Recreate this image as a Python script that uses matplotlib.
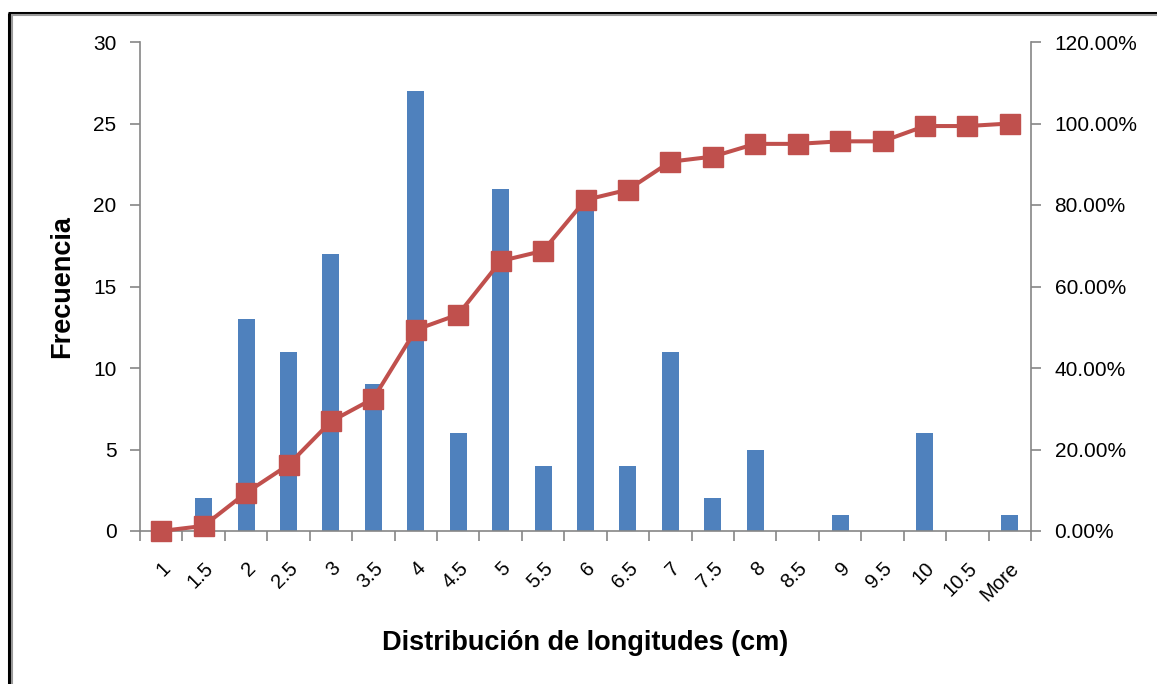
import matplotlib
matplotlib.use("Agg")
import matplotlib.pyplot as plt
from matplotlib.lines import Line2D
from matplotlib.ticker import FuncFormatter, FixedLocator
import numpy as np

categories = ["1", "1.5", "2", "2.5", "3", "3.5", "4", "4.5", "5", "5.5", "6",
              "6.5", "7", "7.5", "8", "8.5", "9", "9.5", "10", "10.5", "More"]
frequency = [0, 2, 13, 11, 17, 9, 27, 6, 21, 4, 20, 4, 11, 2, 5, 0, 1, 0, 6, 0, 1]
cumulative_pct = [0.0, 1.25, 9.375, 16.25, 26.875, 32.5, 49.375, 53.125, 66.25, 68.75,
                  81.25, 83.75, 90.625, 91.875, 95.0, 95.0, 95.625, 95.625, 99.375,
                  99.375, 100.0]
left_ticks = [0, 5, 10, 15, 20, 25, 30]
right_ticks = [0, 20, 40, 60, 80, 100, 120]

plt.rcParams['font.family'] = ['Liberation Sans', 'DejaVu Sans']

W, H = 1157, 684
fig = plt.figure(figsize=(W / 100, H / 100), dpi=100)
ax = fig.add_axes([140 / W, 1 - 531 / H, (1031 - 140) / W, (531 - 42) / H])

x = np.arange(len(categories))
spine_col = "#868686"

ax.bar(x, frequency, width=0.4, color="#4F81BD", zorder=2)
ax.set_xlim(-0.5, len(categories) - 0.5)
ax.set_ylim(0, 30)
ax.set_yticks(left_ticks)
ax.set_xticks(x)
ax.set_xticklabels(categories, rotation=45, ha="right", rotation_mode="anchor",
                   fontsize=14.5)
ax.xaxis.set_minor_locator(FixedLocator(np.arange(-0.5, len(categories), 1.0)))
ax.tick_params(axis="x", which="major", length=0, pad=20)
ax.tick_params(axis="x", which="minor", length=7, color=spine_col, width=1.2)
ax.tick_params(axis="y", length=7, color=spine_col, width=1.2, labelsize=15, pad=10)

for s in ["top", "right"]:
    ax.spines[s].set_visible(False)
for s in ["left", "bottom"]:
    ax.spines[s].set_color(spine_col)
    ax.spines[s].set_linewidth(1.2)

ax2 = ax.twinx()
ax2.plot(x, [v / 100 for v in cumulative_pct], color="#C0504D", lw=2.9,
         marker="s", markersize=14.5, clip_on=False, zorder=3)
ax2.set_ylim(0, 1.2)
ax2.set_yticks([t / 100 for t in right_ticks])
ax2.yaxis.set_major_formatter(FuncFormatter(lambda v, p: f"{v * 100:.2f}%"))
ax2.tick_params(axis="y", length=7, color=spine_col, width=1.2, labelsize=15, pad=10)
for s in ["top", "left", "bottom"]:
    ax2.spines[s].set_visible(False)
ax2.spines["right"].set_color(spine_col)
ax2.spines["right"].set_linewidth(1.2)

ax.set_ylabel("Frecuencia", fontsize=19.5, fontweight="bold")
ax.set_xlabel("Distribución de longitudes (cm)", fontsize=19.5, fontweight="bold")
ax.yaxis.set_label_coords(62 / W, 1 - 287 / H, transform=fig.transFigure)
ax.xaxis.set_label_coords(585 / W, 1 - 643 / H, transform=fig.transFigure)
ax.xaxis.label.set_va("center")
ax.yaxis.label.set_va("center")

# outer frame (black + gray double line on left and top)
fig.add_artist(Line2D([8.5 / W, 8.5 / W], [0, 1 - 12.5 / H], color="black", lw=2.2,
                      transform=fig.transFigure, solid_capstyle="butt"))
fig.add_artist(Line2D([11.5 / W, 11.5 / W], [0, 1 - 15 / H], color="#9a9a9a", lw=1.5,
                      transform=fig.transFigure, solid_capstyle="butt"))
fig.add_artist(Line2D([7.5 / W, 1], [1 - 12.5 / H, 1 - 12.5 / H], color="black", lw=2.2,
                      transform=fig.transFigure, solid_capstyle="butt"))
fig.add_artist(Line2D([11 / W, 1], [1 - 15 / H, 1 - 15 / H], color="#9a9a9a", lw=1.5,
                      transform=fig.transFigure, solid_capstyle="butt"))

fig.savefig("out.png", dpi=100)
